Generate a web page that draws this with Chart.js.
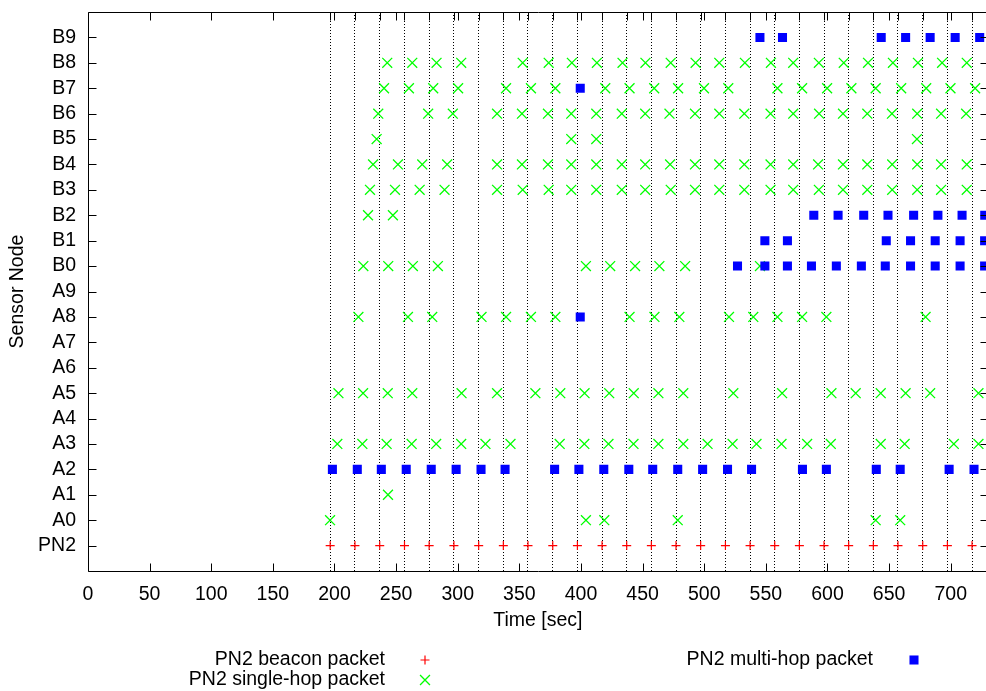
<!DOCTYPE html>
<html>
<head>
<meta charset="utf-8">
<script src="https://cdn.jsdelivr.net/npm/chart.js@4/dist/chart.umd.min.js"></script>
<style>
html, body { margin: 0; padding: 0; overflow: hidden; background: #fff; }
#wrap { width: 996px; height: 691px; }
</style>
</head>
<body>
<div id="wrap"><canvas id="myChart" width="996" height="691"></canvas></div>
<script>
// nodes on the y axis, bottom to top
var nodeNames = ['PN2', 'A0', 'A1', 'A2', 'A3', 'A4', 'A5', 'A6', 'A7', 'A8', 'A9',
    'B0', 'B1', 'B2', 'B3', 'B4', 'B5', 'B6', 'B7', 'B8', 'B9'];
var xTicks = [0, 50, 100, 150, 200, 250, 300, 350, 400, 450, 500, 550, 600, 650, 700];

// PN2 beacons (also the dotted lines)
var beaconTimes = [196.5, 216.6, 236.7, 256.8, 276.8, 296.9, 317.0, 337.0, 357.0, 377.1,
    397.1, 417.1, 437.1, 457.1, 477.1, 497.1, 517.2, 537.2, 557.2, 577.2, 597.2, 617.2,
    637.2, 657.2, 677.3, 697.3, 717.3];

// single-hop packets per node
var singleA0 = [196.4, 404.0, 418.9, 478.5, 639.1, 659.0];
var singleA1 = [243.4];
var singleA3 = [202.3, 222.6, 242.3, 262.6, 282.5, 302.8, 322.5, 342.8, 382.7, 402.7, 422.3,
    442.6, 462.8, 483.0, 502.7, 523.0, 542.4, 562.7, 583.5, 602.7, 643.2, 662.6, 702.5, 722.5];
var singleA5 = [203.2, 223.2, 243.2, 263.1, 303.1, 331.9, 363.0, 383.2, 402.9, 422.9, 442.8,
    462.8, 483.0, 523.6, 563.2, 603.2, 622.9, 643.2, 663.4, 683.3, 722.5];
var singleA8 = [219.4, 259.6, 279.3, 319.3, 339.2, 359.4, 379.2, 439.4, 459.6, 479.8, 520.1,
    539.8, 559.4, 579.4, 599.1, 679.6];
var singleB0 = [223.4, 243.6, 263.6, 283.9, 404.0, 423.7, 443.9, 463.6, 484.5, 545.2];
var singleB2 = [227.2, 247.4];
var singleB3 = [228.8, 249.1, 269.1, 289.3, 331.9, 352.7, 373.8, 392.1, 412.4, 433.1, 452.1,
    472.8, 492.5, 512.2, 532.5, 553.8, 572.2, 593.0, 612.6, 632.3, 652.5, 672.8, 692.2, 713.0];
var singleB4 = [231.3, 251.5, 271.2, 291.4, 331.9, 352.1, 373.2, 392.1, 412.4, 433.1, 452.1,
    472.3, 492.5, 512.2, 532.5, 553.8, 572.2, 592.4, 612.6, 632.3, 652.5, 672.8, 692.2, 713.0];
var singleB5 = [234.2, 392.1, 412.4, 672.6];
var singleB6 = [235.5, 276.0, 296.0, 331.9, 352.1, 373.2, 392.1, 412.4, 433.1, 452.1, 471.8,
    492.5, 512.2, 532.5, 553.8, 572.2, 593.2, 612.6, 632.3, 652.3, 672.8, 692.2, 712.5];
var singleB7 = [240.2, 260.4, 280.1, 300.3, 339.2, 359.4, 379.2, 419.7, 439.4, 459.4, 478.8,
    499.8, 519.5, 559.4, 579.4, 599.7, 619.4, 639.1, 659.8, 680.1, 699.8, 719.8];
var singleB8 = [242.8, 263.1, 282.8, 302.8, 352.7, 373.8, 392.6, 412.9, 433.7, 452.3, 472.8,
    493.0, 512.2, 533.0, 554.1, 572.2, 593.0, 613.2, 632.9, 653.1, 673.4, 693.0, 713.0];

// multi-hop packets per node
var multiA2 = [198.3, 218.5, 238.0, 258.2, 278.5, 298.7, 318.9, 338.4, 378.6, 398.3, 418.5,
    438.8, 458.2, 478.5, 498.7, 518.9, 538.4, 579.7, 599.1, 639.6, 659.0, 698.7, 718.9];
var multiA8 = [399.4];
var multiB0 = [527.0, 549.2, 567.5, 587.0, 607.2, 627.5, 646.9, 667.4, 687.4, 707.6, 727.5];
var multiB1 = [549.2, 567.5, 647.7, 667.4, 687.4, 707.6, 727.5];
var multiB2 = [588.9, 608.6, 629.4, 649.1, 669.9, 689.6, 709.2, 727.6];
var multiB7 = [399.4];
var multiB9 = [545.2, 563.5, 643.6, 663.4, 683.3, 703.6, 723.5];

function pts(node, times) {
    var y = nodeNames.indexOf(node);
    return times.map(function (t) { return { x: t, y: y }; });
}

var beaconPoints = pts('PN2', beaconTimes);
var singlePoints = [].concat(pts('A0', singleA0), pts('A1', singleA1), pts('A3', singleA3),
    pts('A5', singleA5), pts('A8', singleA8), pts('B0', singleB0), pts('B2', singleB2),
    pts('B3', singleB3), pts('B4', singleB4), pts('B5', singleB5), pts('B6', singleB6),
    pts('B7', singleB7), pts('B8', singleB8));
var multiPoints = [].concat(pts('A2', multiA2), pts('A8', multiA8), pts('B0', multiB0),
    pts('B1', multiB1), pts('B2', multiB2), pts('B7', multiB7), pts('B9', multiB9));

var FONT = { family: '"Liberation Sans", Arial, sans-serif', size: 19.5 };
var TICK = 8;

// gnuplot style frame with inward ticks
var frame = {
    id: 'frame',
    afterDatasetsDraw: function (chart) {
        var ctx = chart.ctx, a = chart.chartArea;
        var xs = chart.scales.x, x2 = chart.scales.x2, ys = chart.scales.y;
        var L = Math.round(a.left) + 0.5, R = Math.round(a.right) + 0.5;
        var T = Math.round(a.top) + 0.5, B = Math.round(a.bottom) + 0.5;
        ctx.save();
        ctx.strokeStyle = '#000';
        ctx.lineWidth = 1;
        ctx.beginPath();
        ctx.rect(L, T, R - L, B - T);
        xs.ticks.forEach(function (t) {
            var px = Math.round(xs.getPixelForValue(t.value)) + 0.5;
            ctx.moveTo(px, B); ctx.lineTo(px, B - TICK);
            ctx.moveTo(px, T); ctx.lineTo(px, T + TICK);
        });
        x2.ticks.forEach(function (t) {
            var px = Math.round(x2.getPixelForValue(t.value)) + 0.5;
            ctx.moveTo(px, T); ctx.lineTo(px, T + TICK);
        });
        ys.ticks.forEach(function (t) {
            var py = Math.round(ys.getPixelForValue(t.value)) + 0.5;
            ctx.moveTo(L, py); ctx.lineTo(L + TICK, py);
            ctx.moveTo(R, py); ctx.lineTo(R - TICK, py);
        });
        ctx.stroke();
        ctx.restore();
    }
};

// two column key under the plot
var keyBox = {
    id: 'keyBox',
    afterDraw: function (chart) {
        var ctx = chart.ctx;
        var spots = [[385, 425, 660], [385, 425, 680], [873, 914, 660]];
        ctx.save();
        ctx.font = FONT.size + 'px ' + FONT.family;
        ctx.textAlign = 'right';
        ctx.textBaseline = 'middle';
        chart.data.datasets.forEach(function (ds, i) {
            var s = spots[i];
            ctx.fillStyle = '#000';
            ctx.fillText(ds.label, s[0], s[2]);
            ctx.strokeStyle = ds.borderColor;
            ctx.fillStyle = ds.backgroundColor;
            ctx.lineWidth = ds.borderWidth || 0;
            Chart.helpers.drawPoint(ctx, {
                pointStyle: ds.pointStyle, radius: ds.pointRadius,
                borderWidth: ds.borderWidth, rotation: 0
            }, s[1], s[2]);
        });
        ctx.restore();
    }
};

var ctx = document.getElementById('myChart').getContext('2d');
var myChart = new Chart(ctx, {
    type: 'scatter',
    data: {
        datasets: [{
            label: 'PN2 beacon packet',
            data: beaconPoints,
            pointStyle: 'cross',
            pointRadius: 4.5,
            borderColor: '#ff0000',
            backgroundColor: '#ff0000',
            borderWidth: 1.2,
            order: 2
        }, {
            label: 'PN2 single-hop packet',
            data: singlePoints,
            pointStyle: 'crossRot',
            pointRadius: 7,
            borderColor: '#00ff00',
            backgroundColor: '#00ff00',
            borderWidth: 1.3,
            order: 1
        }, {
            label: 'PN2 multi-hop packet',
            data: multiPoints,
            pointStyle: 'rect',
            pointRadius: 6.4,
            borderColor: '#0000ff',
            backgroundColor: '#0000ff',
            borderWidth: 0,
            order: 0
        }]
    },
    options: {
        responsive: false,
        devicePixelRatio: 1,
        animation: false,
        layout: { padding: { left: 0, top: 12, right: 6, bottom: 0 } },
        plugins: {
            legend: { display: false },
            tooltip: { enabled: false }
        },
        scales: {
            x: {
                type: 'linear',
                position: 'bottom',
                min: 0,
                max: 730,
                afterBuildTicks: function (s) { s.ticks = xTicks.map(function (v) { return { value: v }; }); },
                afterFit: function (s) { s.height = 120; s.paddingLeft = 0; s.paddingRight = 0; },
                grid: { display: false, drawTicks: false },
                border: { display: false },
                ticks: { font: FONT, color: '#000', padding: 12, maxRotation: 0, autoSkip: false },
                title: { display: true, text: 'Time [sec]', font: FONT, color: '#000', padding: { top: 0, bottom: 59 } }
            },
            x2: {
                type: 'linear',
                position: 'top',
                min: 0,
                max: 730,
                afterBuildTicks: function (s) { s.ticks = beaconTimes.map(function (v) { return { value: v }; }); },
                afterFit: function (s) { s.height = 0; s.paddingLeft = 0; s.paddingRight = 0; },
                grid: { color: '#000', lineWidth: 1, drawTicks: false },
                border: { display: false, dash: [1, 2] },
                ticks: { display: false }
            },
            y: {
                type: 'linear',
                min: -1,
                max: 21,
                afterBuildTicks: function (s) { s.ticks = nodeNames.map(function (n, i) { return { value: i }; }); },
                afterFit: function (s) { s.width = 88; s.paddingTop = 0; s.paddingBottom = 0; },
                grid: { display: false, drawTicks: false },
                border: { display: false },
                ticks: {
                    font: FONT, color: '#000', padding: 12, autoSkip: false,
                    callback: function (v) { return nodeNames[v]; }
                },
                title: { display: true, text: 'Sensor Node', font: FONT, color: '#000', padding: { top: 6, bottom: 0 } }
            }
        }
    },
    plugins: [frame, keyBox]
});
</script>
</body>
</html>
